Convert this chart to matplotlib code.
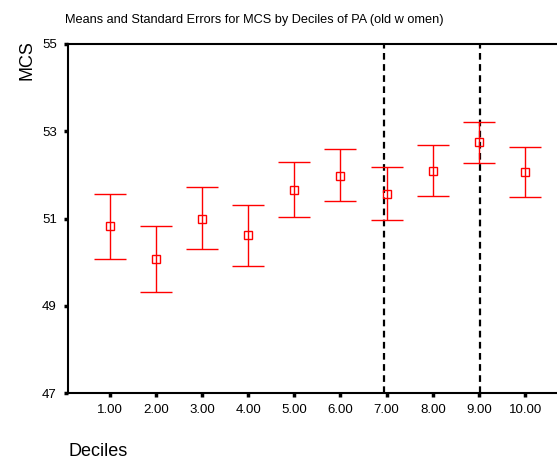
import numpy as np
import matplotlib
matplotlib.use("Agg")
import matplotlib.pyplot as plt

plt.rcParams['font.family'] = ['Liberation Sans', 'DejaVu Sans']

# data
deciles = [1, 2, 3, 4, 5, 6, 7, 8, 9, 10]
means = [50.83, 50.07, 51.00, 50.63, 51.65, 51.98, 51.56, 52.10, 52.75, 52.07]
upper = [51.56, 50.82, 51.73, 51.31, 52.29, 52.60, 52.18, 52.69, 53.22, 52.63]
lower = [50.07, 49.32, 50.29, 49.92, 51.03, 51.40, 50.97, 51.52, 52.27, 51.50]
ref_lines = [6.94, 9.02]
xtick_labels = ['1.00', '2.00', '3.00', '4.00', '5.00', '6.00', '7.00', '8.00', '9.00', '10.00']
yticks = [47, 49, 51, 53, 55]

means = np.array(means)
yerr = np.vstack([means - np.array(lower), np.array(upper) - means])

fig = plt.figure(figsize=(5.57, 4.58), dpi=100)
ax = fig.add_axes([68 / 557, 65 / 458, 489 / 557, 349 / 458])

for x in ref_lines:
    ax.axvline(x, color='black', linestyle=(0, (3, 2)), linewidth=1.6, zorder=1)

ax.errorbar(deciles, means, yerr=yerr, fmt='s', color='red', mfc='none', mec='red',
            markersize=6, elinewidth=1, capsize=11.5, capthick=1, zorder=3)

ax.set_xlim(0.1, 10.69)
ax.set_ylim(47, 55)
ax.set_xticks(deciles)
ax.set_xticklabels(xtick_labels, fontsize=9.5)
ax.set_yticks(yticks)
ax.set_yticklabels([str(v) for v in yticks], fontsize=9.5)
ax.tick_params(direction='out', length=3, width=2.5, pad=5)

ax.spines['right'].set_visible(False)
for s in ['left', 'bottom', 'top']:
    ax.spines[s].set_linewidth(1.5)

fig.text(65 / 557, 1 - 20 / 458, 'Means and Standard Errors for MCS by Deciles of PA (old w omen)',
         fontsize=9.2, va='center', ha='left')
fig.text(27 / 557, 1 - 60 / 458, 'MCS', fontsize=13, rotation=90, va='center', ha='center')
fig.text(68 / 557, 1 - 451 / 458, 'Deciles', fontsize=13, va='center', ha='left')

fig.savefig('out.png', dpi=100)
